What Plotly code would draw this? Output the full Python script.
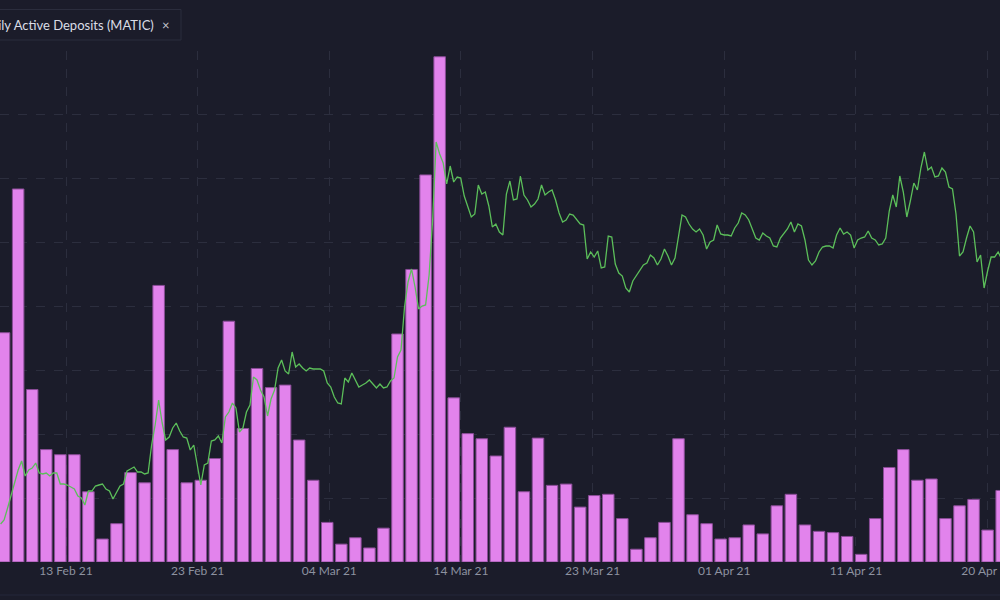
import pandas as pd
import plotly.graph_objects as go

# ---- data ----
deposit_start = "2021-02-09"
daily_active_deposits = [
    359, 584, 270, 176, 168, 168, 110, 36, 60, 140,
    124, 433, 176, 124, 128, 162, 377, 209, 303, 273,
    277, 191, 128, 62, 28, 38, 22, 53, 357, 458,
    606, 791, 257, 201, 193, 166, 211, 110, 194, 120,
    122, 86, 104, 106, 68, 20, 38, 62, 193, 74,
    60, 36, 38, 58, 44, 88, 106, 58, 48, 46,
    40, 12, 68, 148, 176, 128, 130, 68, 88, 98,
    50, 112,
]

price_start = "2021-02-09 06:00"
price_freq = "6h"
matic_price = [
    0.038, 0.042, 0.054, 0.066, 0.080, 0.092, 0.101, 0.086, 0.092, 0.094,
    0.099, 0.089, 0.088, 0.089, 0.086, 0.089, 0.089, 0.078, 0.078, 0.077,
    0.075, 0.073, 0.066, 0.064, 0.057, 0.071, 0.071, 0.076, 0.077, 0.078,
    0.073, 0.071, 0.063, 0.069, 0.076, 0.078, 0.091, 0.093, 0.095, 0.090,
    0.090, 0.088, 0.089, 0.117, 0.137, 0.162, 0.139, 0.122, 0.125, 0.134,
    0.139, 0.131, 0.125, 0.124, 0.112, 0.117, 0.096, 0.077, 0.097, 0.099,
    0.121, 0.122, 0.126, 0.119, 0.145, 0.150, 0.159, 0.154, 0.130, 0.134,
    0.150, 0.157, 0.185, 0.182, 0.172, 0.165, 0.146, 0.163, 0.172, 0.194,
    0.202, 0.191, 0.188, 0.210, 0.195, 0.198, 0.194, 0.191, 0.194, 0.193,
    0.193, 0.193, 0.191, 0.179, 0.175, 0.165, 0.159, 0.158, 0.184, 0.180,
    0.189, 0.182, 0.175, 0.177, 0.179, 0.182, 0.178, 0.174, 0.178, 0.174,
    0.175, 0.181, 0.184, 0.205, 0.212, 0.255, 0.280, 0.293, 0.275, 0.253,
    0.256, 0.257, 0.287, 0.342, 0.420, 0.408, 0.399, 0.378, 0.396, 0.380,
    0.385, 0.384, 0.366, 0.355, 0.345, 0.348, 0.377, 0.368, 0.370, 0.356,
    0.335, 0.338, 0.330, 0.327, 0.368, 0.381, 0.362, 0.363, 0.386, 0.367,
    0.362, 0.355, 0.358, 0.363, 0.377, 0.367, 0.370, 0.372, 0.362, 0.349,
    0.340, 0.342, 0.348, 0.347, 0.343, 0.338, 0.337, 0.303, 0.310, 0.305,
    0.311, 0.294, 0.295, 0.326, 0.325, 0.298, 0.289, 0.286, 0.274, 0.270,
    0.281, 0.286, 0.291, 0.297, 0.299, 0.307, 0.304, 0.297, 0.303, 0.313,
    0.306, 0.297, 0.304, 0.328, 0.347, 0.345, 0.338, 0.333, 0.330, 0.333,
    0.327, 0.313, 0.320, 0.322, 0.337, 0.328, 0.327, 0.327, 0.326, 0.334,
    0.339, 0.349, 0.347, 0.342, 0.333, 0.324, 0.322, 0.329, 0.326, 0.324,
    0.316, 0.315, 0.324, 0.328, 0.333, 0.340, 0.330, 0.338, 0.336, 0.322,
    0.302, 0.297, 0.301, 0.310, 0.315, 0.316, 0.316, 0.314, 0.327, 0.334,
    0.328, 0.330, 0.327, 0.314, 0.322, 0.324, 0.325, 0.331, 0.324, 0.322,
    0.317, 0.318, 0.324, 0.351, 0.367, 0.355, 0.386, 0.370, 0.345, 0.361,
    0.379, 0.372, 0.394, 0.410, 0.392, 0.395, 0.385, 0.386, 0.394, 0.390,
    0.375, 0.373, 0.348, 0.306, 0.310, 0.324, 0.336, 0.330, 0.300, 0.307,
    0.274, 0.291, 0.305, 0.305, 0.310, 0.303,
]

tick_labels = ["13 Feb 21", "23 Feb 21", "04 Mar 21", "14 Mar 21",
               "23 Mar 21", "01 Apr 21", "11 Apr 21", "20 Apr 21"]
first_tick = "2021-02-13 21:45"
tick_step_days = 9.37
x_range = ["2021-02-09 05:00", "2021-04-21 09:10"]

series_name = "Daily Active Deposits (MATIC)"

# ---- styles ----
BG = "#1b1c2a"
GRID = "#2c2e3e"
BAR_FILL = "#e283ec"
BAR_EDGE = "#8a4c97"
LINE = "#5cbf5a"
TICK = "#8d92a0"

bar_x = pd.date_range(deposit_start, periods=len(daily_active_deposits), freq="D") + pd.Timedelta(hours=12)
price_x = pd.date_range(price_start, periods=len(matic_price), freq=price_freq)
tick_vals = [pd.Timestamp(first_tick) + pd.Timedelta(days=tick_step_days * i) for i in range(len(tick_labels))]

fig = go.Figure()
fig.add_trace(go.Bar(
    x=bar_x, y=daily_active_deposits, name=series_name,
    marker=dict(color=BAR_FILL, line=dict(color=BAR_EDGE, width=1)),
    yaxis="y",
))
fig.add_trace(go.Scatter(
    x=price_x, y=matic_price, name="Price (MATIC)", mode="lines",
    line=dict(color=LINE, width=1.3), yaxis="y2",
))

fig.update_layout(
    width=1000, height=600,
    paper_bgcolor=BG, plot_bgcolor=BG,
    margin=dict(l=0, r=0, t=51, b=38, autoexpand=False),
    showlegend=False,
    bargap=0.18,
    font=dict(family="Lato, 'Open Sans', sans-serif", color=TICK, size=12),
    xaxis=dict(
        type="date", range=x_range,
        tickvals=tick_vals, ticktext=tick_labels,
        showgrid=True, gridcolor=GRID, griddash="dash", gridwidth=1,
        showline=False, zeroline=False, ticks="",
        tickfont=dict(color=TICK, size=12),
        ticklabeloverflow="allow", automargin=False,
    ),
    yaxis=dict(
        range=[0, 800], dtick=100, showticklabels=False,
        showgrid=True, gridcolor=GRID, griddash="dash", gridwidth=1,
        zeroline=False, showline=False, automargin=False,
    ),
    yaxis2=dict(
        range=[0, 0.511], overlaying="y", side="right",
        showticklabels=False, showgrid=False, zeroline=False, showline=False,
        automargin=False,
    ),
)

# legend chip (partially cut off on the left in the original)
fig.add_shape(type="rect", xref="paper", yref="paper",
              x0=-0.05, x1=0.181, y0=(562 - 40) / 511, y1=(562 - 9.5) / 511,
              line=dict(color="#2b2d3d", width=1), fillcolor=BG, layer="above")
fig.add_annotation(xref="paper", yref="paper", x=0.1555, y=(562 - 25) / 511,
                   xanchor="right", yanchor="middle", showarrow=False,
                   text=series_name, font=dict(color="#dadde6", size=13))
fig.add_annotation(xref="paper", yref="paper", x=0.166, y=(562 - 25) / 511,
                   xanchor="center", yanchor="middle", showarrow=False,
                   text="×", font=dict(color="#c3c6d0", size=13))
fig.add_shape(type="line", xref="paper", yref="paper",
              x0=0, x1=1, y0=(562 - 595) / 511, y1=(562 - 595) / 511,
              line=dict(color="#24263a", width=1))

fig.write_html(
    "out.html",
    config={"displayModeBar": False},
    post_script="document.body.style.margin='0';document.body.style.background='" + BG + "';",
)
